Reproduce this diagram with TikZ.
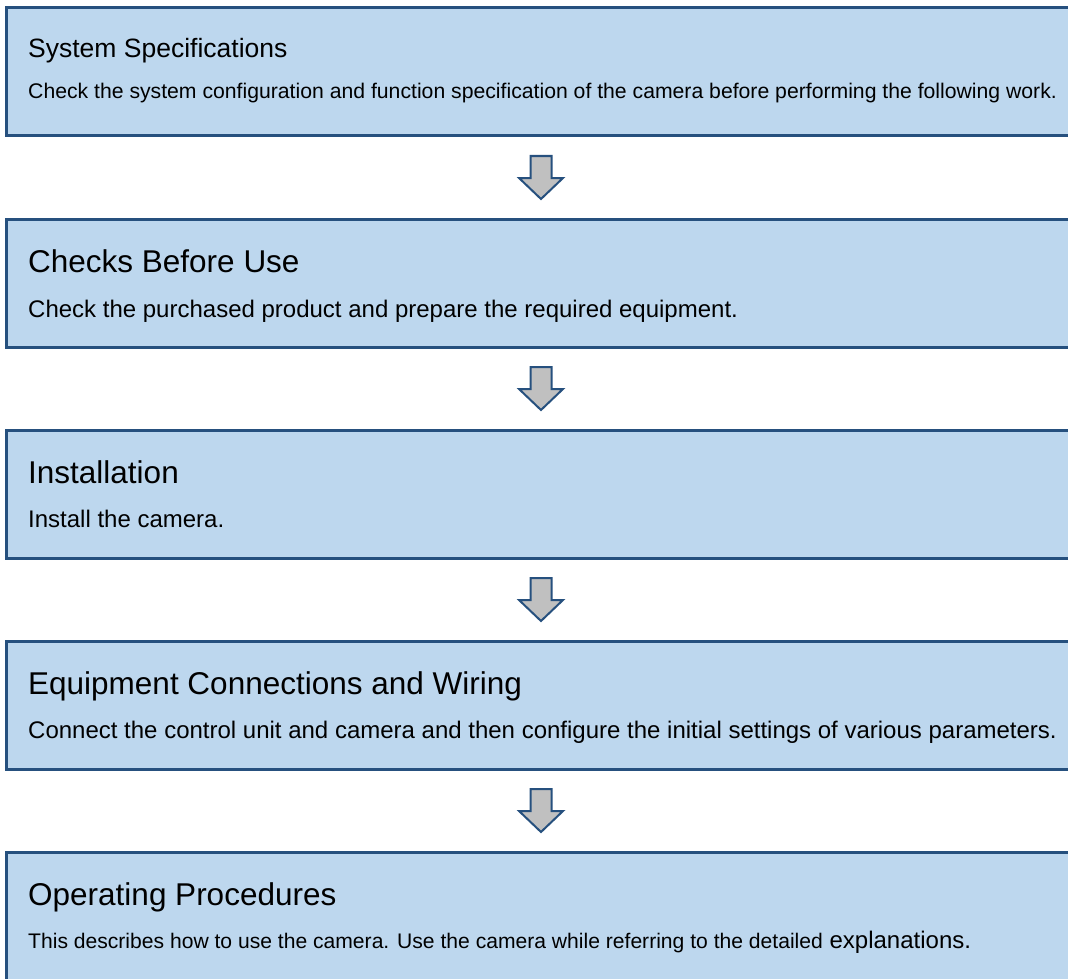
\documentclass[tikz,border=0pt]{standalone}
\usepackage{fontspec}
\setmainfont{Liberation Sans}
\usetikzlibrary{positioning, calc}

\definecolor{boxfill}{RGB}{189,215,238}
\definecolor{boxline}{RGB}{38,80,126}
\definecolor{arrowfill}{RGB}{192,192,192}

\begin{document}
\begin{tikzpicture}[x=1pt, y=-1pt,
    stepbox/.style={draw=boxline, line width=3pt, fill=boxfill, outer sep=0pt,
        minimum width=1070pt, minimum height=128pt, anchor=north west, inner sep=0pt},
    headtext/.style={anchor=base west, inner sep=0pt, font=\fontsize{31.5}{36}\selectfont},
    bodytext/.style={anchor=base west, inner sep=0pt, font=\fontsize{24}{28}\selectfont},
    blockarrow/.style={draw=boxline, line width=2pt, fill=arrowfill, line join=miter}]
    % Page frame
    \useasboundingbox (0,0) rectangle (1068,979);

    % Step boxes
    \node[stepbox] (b1) at (6,8) {};
    \node[stepbox] (b2) at (6,219) {};
    \node[stepbox] (b3) at (6,430) {};
    \node[stepbox] (b4) at (6,641) {};
    \node[stepbox] (b5) at (6,852) {};

    % Titles and descriptions
    \node[headtext, font=\fontsize{26.5}{30}\selectfont] (h1) at ($(b1.north west)+(22,50)$) {System Specifications};
    \node[bodytext, font=\fontsize{21.2}{25}\selectfont] (t1) at ($(b1.north west)+(22,91)$) {Check the system configuration and function specification of the camera before performing the following work.};

    \node[headtext] (h2) at ($(b2.north west)+(22,53)$) {Checks Before Use};
    \node[bodytext] (t2) at ($(b2.north west)+(22,98)$) {Check the purchased product and prepare the required equipment.};

    \node[headtext] (h3) at ($(b3.north west)+(22,53)$) {Installation};
    \node[bodytext] (t3) at ($(b3.north west)+(22,97)$) {Install the camera.};

    \node[headtext] (h4) at ($(b4.north west)+(22,53)$) {Equipment Connections and Wiring};
    \node[bodytext] (t4) at ($(b4.north west)+(22,97)$) {Connect the control unit and camera and then configure the initial settings of various parameters.};

    \node[headtext] (h5) at ($(b5.north west)+(22,53)$) {Operating Procedures};
    \node[bodytext] (t5) at ($(b5.north west)+(22,96)$) {{\fontsize{21.1}{25}\selectfont This describes how to use the camera. Use the camera while referring to the detailed} explanations.};

    % Down arrows between the boxes
    \foreach \a/\b in {b1/b2, b2/b3, b3/b4, b4/b5} {
        \coordinate (m) at ($(\a.south)!0.5!(\b.north)$);
        \draw[blockarrow] ($(m)+(-10.5,-21.5)$) -- ($(m)+(10.5,-21.5)$) -- ($(m)+(10.5,0.5)$)
            -- ($(m)+(22,0.5)$) -- ($(m)+(0,21.5)$) -- ($(m)+(-22,0.5)$) -- ($(m)+(-10.5,0.5)$) -- cycle;
    }
\end{tikzpicture}
\end{document}
